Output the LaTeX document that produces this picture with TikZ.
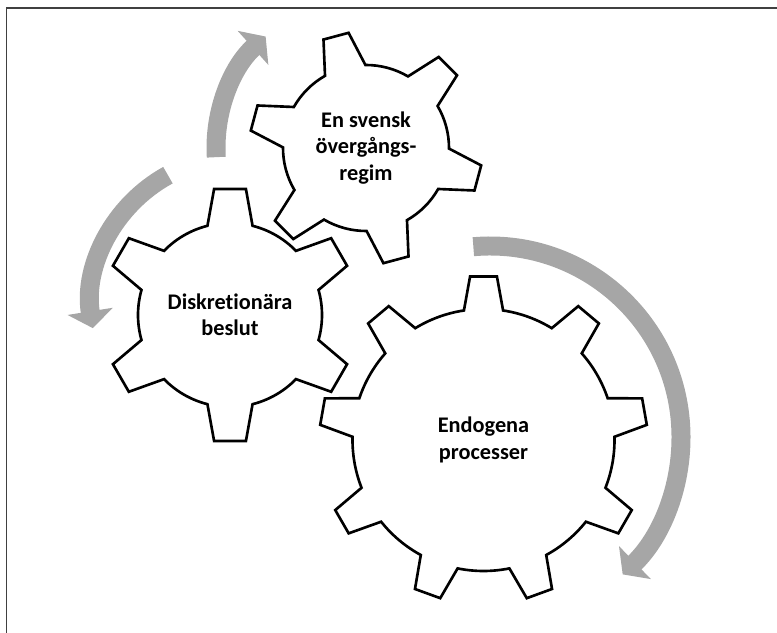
\documentclass[tikz,border=0pt]{standalone}
\usepackage{fontspec}
\setmainfont{Carlito}[Ligatures=NoCommon]
\usepackage{tikz}
\usetikzlibrary{arrows.meta}
\definecolor{flowgray}{RGB}{166,166,166}
\definecolor{framegray}{RGB}{64,64,64}

% gear outline: center, teeth, outer r, root r, first tooth angle, tip half-angle, base half-angle
\newcommand{\gear}[7]{%
  \begin{scope}[shift={#1}]
    \pgfmathsetmacro{\gstep}{360/#2}
    \draw[gearline] ({#5-#7}:#4)
      \foreach \k in {1,...,#2} {
        -- ({#5+(\k-1)*\gstep-#6}:#3) -- ({#5+(\k-1)*\gstep+#6}:#3)
        -- ({#5+(\k-1)*\gstep+#7}:#4)
        arc[start angle={#5+(\k-1)*\gstep+#7}, end angle={#5+\k*\gstep-#7}, radius=#4]
      } -- cycle;
  \end{scope}}

\begin{document}
\begin{tikzpicture}[
    x=0.02cm, y=0.02cm,
    gearline/.style={draw=black, fill=white, line width=1.5pt, line join=miter},
    gtext/.style={align=center, font=\bfseries\fontsize{12.7}{15}\selectfont},
    flow/.style={draw=flowgray, line width=0.38cm, -{Triangle[length=0.34cm, width=0.9cm]}},
    frame/.style={draw=framegray, line width=0.6pt}
]
\useasboundingbox (0,0) rectangle (777,632);
\draw[frame] (6.3,-10) -- (6.3,624) -- (790,624);

% gear centres
\coordinate (c1) at (230,317);
\coordinate (c2) at (366,484);
\coordinate (c3) at (483.5,192);

% curved arrows
\draw[flow] (c2) ++(183.5:150) arc[start angle=183.5, end angle=132, radius=150];
\draw[flow] (239,327) ++(118.7:148) arc[start angle=118.7, end angle=189, radius=148];
\draw[flow] (490,195) ++(95:191) arc[start angle=95, end angle=-46, radius=191];

% gears
\gear{(c1)}{6}{127}{92}{90}{7.2}{14.2}
\gear{(c2)}{6}{116.5}{83}{105}{6.4}{14.6}
\gear{(c3)}{9}{164}{131}{90}{4.7}{8.6}

% labels
\node[gtext] (disk) at (c1) {Diskretionära\\beslut};
\node[gtext] (regim) at (c2) {En svensk\\övergångs-\\regim};
\node[gtext] (endo) at (c3) {Endogena\\processer};

\end{tikzpicture}
\end{document}
